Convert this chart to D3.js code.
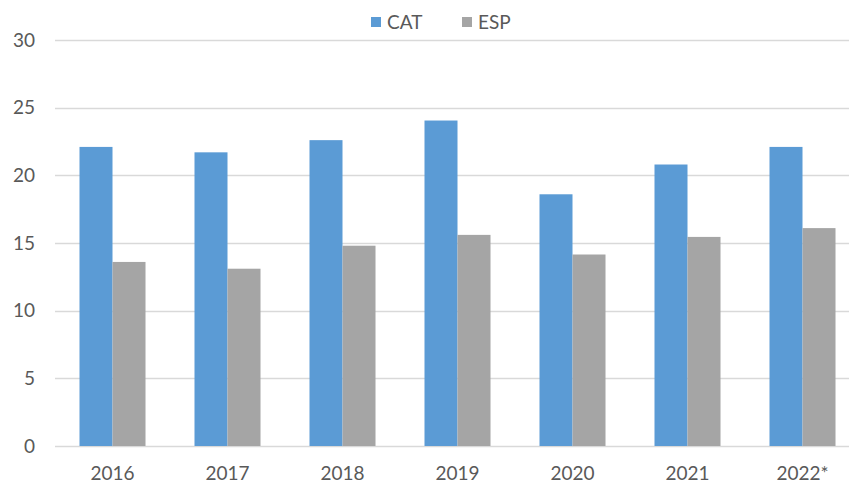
<!DOCTYPE html>
<html>
<head>
<meta charset="utf-8">
<script src="https://cdn.jsdelivr.net/npm/d3@7"></script>
<style>
  body { margin: 0; background: #fff; }
  text { font-family: Lato, "Open Sans", sans-serif; fill: #595959; }
</style>
</head>
<body>
<div id="chart"></div>
<script>
// data
var years = ["2016", "2017", "2018", "2019", "2020", "2021", "2022*"];
var seriesNames = ["CAT", "ESP"];
var catValues = [22.1, 21.7, 22.6, 24.05, 18.6, 20.8, 22.1];
var espValues = [13.6, 13.1, 14.8, 15.6, 14.15, 15.45, 16.1];
var yTicks = [0, 5, 10, 15, 20, 25, 30];

var colors = ["#5B9BD5", "#A5A5A5"];

var width = 849, height = 483;
// plot area (right edge runs past the picture, as in the reference)
var plotLeft = 55, plotRight = 860, plotTop = 40, plotBottom = 446;

var svg = d3.select("#chart")
  .append("svg")
  .attr("width", width)
  .attr("height", height);

var rows = years.map(function(y, i) {
  return {year: y, values: [catValues[i], espValues[i]]};
});

var x0 = d3.scaleBand()
  .domain(years)
  .range([plotLeft, plotRight]);

// two bars take about 66 of the 115 px per category
var groupW = x0.bandwidth() * 0.574;
var x1 = d3.scaleBand()
  .domain(seriesNames)
  .range([0, groupW]);

var y = d3.scaleLinear()
  .domain([0, 30])
  .range([plotBottom, plotTop]);

// gridlines
svg.append("g")
  .selectAll("line")
  .data(yTicks)
  .enter()
  .append("line")
  .attr("x1", plotLeft)
  .attr("x2", plotRight)
  .attr("y1", function(d) { return Math.round(y(d)) + 0.5; })
  .attr("y2", function(d) { return Math.round(y(d)) + 0.5; })
  .attr("stroke", "#D9D9D9")
  .attr("stroke-width", 1.3);

// y tick labels
svg.append("g")
  .selectAll("text")
  .data(yTicks)
  .enter()
  .append("text")
  .attr("x", 35)
  .attr("y", function(d) { return y(d); })
  .attr("dy", "0.35em")
  .attr("text-anchor", "end")
  .style("font-size", "19px")
  .text(function(d) { return d; });

// bars
var groups = svg.append("g")
  .selectAll("g")
  .data(rows)
  .enter()
  .append("g")
  .attr("transform", function(d) {
    return "translate(" + (x0(d.year) + (x0.bandwidth() - groupW) / 2) + ",0)";
  });

groups.selectAll("rect")
  .data(function(d) {
    return d.values.map(function(v, j) { return {key: seriesNames[j], value: v, idx: j}; });
  })
  .enter()
  .append("rect")
  .attr("x", function(d) { return x1(d.key); })
  .attr("width", x1.bandwidth())
  .attr("y", function(d) { return y(d.value); })
  .attr("height", function(d) { return y(0) - y(d.value); })
  .attr("fill", function(d) { return colors[d.idx]; });

// x labels
svg.append("g")
  .selectAll("text")
  .data(years)
  .enter()
  .append("text")
  .attr("x", function(d) { return x0(d) + x0.bandwidth() / 2; })
  .attr("y", 480)
  .attr("text-anchor", "middle")
  .style("font-size", "19px")
  .text(function(d) { return d; });

// legend
var legendX = [371, 462];
var legend = svg.append("g")
  .selectAll("g")
  .data(seriesNames)
  .enter()
  .append("g")
  .attr("transform", function(d, i) { return "translate(" + legendX[i] + ",17)"; });

legend.append("rect")
  .attr("width", 10)
  .attr("height", 10)
  .attr("fill", function(d, i) { return colors[i]; });

legend.append("text")
  .attr("x", 16)
  .attr("y", 5)
  .attr("dy", "0.36em")
  .style("font-size", "19px")
  .text(function(d) { return d; });
</script>
</body>
</html>
